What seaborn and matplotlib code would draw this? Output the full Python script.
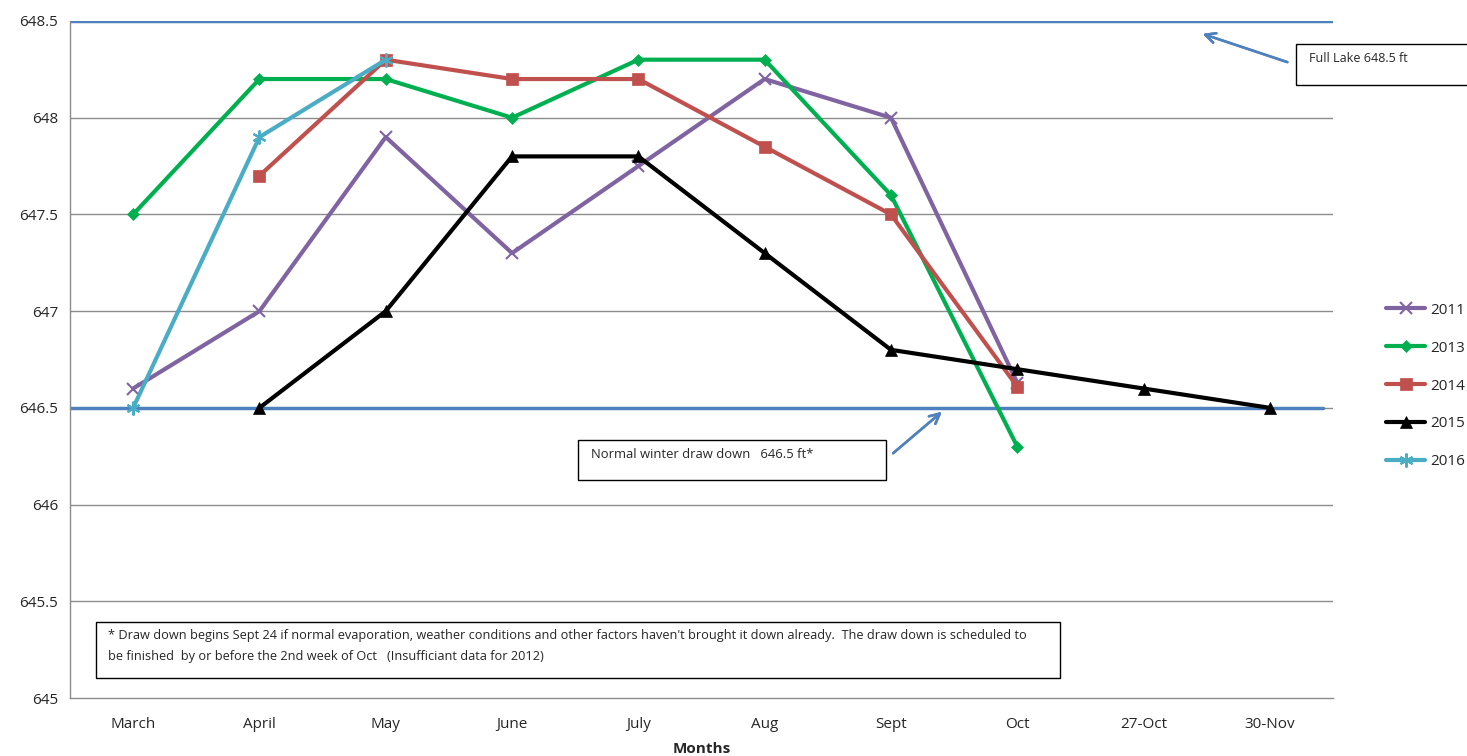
import numpy as np
import pandas as pd
import seaborn as sns
import matplotlib.pyplot as plt
from matplotlib.patches import Rectangle

# Data
months = ["March", "April", "May", "June", "July", "Aug", "Sept", "Oct", "27-Oct", "30-Nov"]
y2011 = [646.6, 647.0, 647.9, 647.3, 647.75, 648.2, 648.0, 646.63, np.nan, np.nan]
y2013 = [647.5, 648.2, 648.2, 648.0, 648.3, 648.3, 647.6, 646.3, np.nan, np.nan]
y2014 = [np.nan, 647.7, 648.3, 648.2, 648.2, 647.85, 647.5, 646.61, np.nan, np.nan]
y2015 = [np.nan, 646.5, 647.0, 647.8, 647.8, 647.3, 646.8, 646.7, 646.6, 646.5]
y2016 = [646.5, 647.9, 648.3, np.nan, np.nan, np.nan, np.nan, np.nan, np.nan, np.nan]
full_lake = 648.5
winter_level = 646.5

series = {"2011": y2011, "2013": y2013, "2014": y2014, "2015": y2015, "2016": y2016}
colors = {"2011": "#8064A2", "2013": "#00B050", "2014": "#C0504D", "2015": "#000000", "2016": "#4BACC6"}
markers = {"2011": "x", "2013": "D", "2014": "s", "2015": "^", "2016": (6, 2, 0)}
msizes = {"2011": 8, "2013": 6, "2014": 8, "2015": 8, "2016": 10}

rows = []
for yr, vals in series.items():
    for i, v in enumerate(vals):
        rows.append({"pos": i, "level": v, "year": yr})
df = pd.DataFrame(rows).dropna()

sns.set_theme(style="white")
plt.rcParams["font.family"] = ["Open Sans", "DejaVu Sans"]

W, H = 1467, 756
fig = plt.figure(figsize=(W / 100, H / 100), dpi=100)
ax = fig.add_axes([70 / W, 1 - 698 / H, (1333 - 70) / W, (698 - 21) / H])

def fx(px):
    return px / W

def fy(py):
    return 1 - py / H

# gridlines
for g in np.arange(645.5, 648.5, 0.5):
    ax.axhline(g, color="#8c8c8c", lw=1, zorder=0)

for yr in series:
    sub = df[df["year"] == yr]
    sns.lineplot(data=sub, x="pos", y="level", ax=ax, color=colors[yr], lw=3,
                 marker=markers[yr], markersize=msizes[yr], markeredgewidth=1.5 if yr in ("2011", "2016") else 0.5,
                 markeredgecolor=colors[yr], label=yr, zorder=3)

# reference lines
ax.axhline(full_lake, color="#4F81BD", lw=2.5, zorder=2)
ax.plot([-0.5, 9.42], [winter_level, winter_level], color="#4F81BD", lw=2.5, zorder=2)

ax.set_xlim(-0.5, 9.5)
ax.set_ylim(645, 648.5)
ax.set_yticks(np.arange(645, 648.51, 0.5))
ax.set_yticklabels(["645", "645.5", "646", "646.5", "647", "647.5", "648", "648.5"], fontsize=11)
ax.set_xticks(range(len(months)))
ax.set_xticklabels(months, fontsize=11)
ax.set_xticks(np.arange(-0.5, 9.6, 1), minor=True)
ax.tick_params(axis="x", which="major", length=0, pad=14)
ax.tick_params(axis="x", which="minor", length=6, color="#8c8c8c", direction="out")
ax.tick_params(axis="y", length=5, color="#8c8c8c", direction="out")
ax.set_xlabel("Months", fontsize=11, fontweight="bold", labelpad=7)
ax.set_ylabel("")
for s in ["top", "right"]:
    ax.spines[s].set_visible(False)
for s in ["left", "bottom"]:
    ax.spines[s].set_color("#8c8c8c")
    ax.spines[s].set_linewidth(1)

leg = ax.legend(loc="center left", bbox_to_anchor=(fx(1372), fy(386)), bbox_transform=fig.transFigure,
                frameon=False, fontsize=11, handlelength=2.6, handletextpad=0.3, labelspacing=1.5)

# annotation boxes
fig.add_artist(Rectangle((fx(1296), fy(85)), fx(1480) - fx(1296), fy(44) - fy(85),
                         transform=fig.transFigure, fill=False, ec="black", lw=1))
fig.text(fx(1309), fy(59), "Full Lake 648.5 ft", fontsize=9, va="center")
fig.add_artist(Rectangle((fx(578), fy(480)), fx(886) - fx(578), fy(440) - fy(480),
                         transform=fig.transFigure, fill=False, ec="black", lw=1))
fig.text(fx(591), fy(455), "Normal winter draw down   646.5 ft*", fontsize=9.4, va="center")
fig.add_artist(Rectangle((fx(96), fy(678)), fx(1060) - fx(96), fy(622) - fy(678),
                         transform=fig.transFigure, fill=False, ec="black", lw=1))
fig.text(fx(108), fy(646),
         "* Draw down begins Sept 24 if normal evaporation, weather conditions and other factors haven't brought it down already.  The draw down is scheduled to\n"
         "be finished  by or before the 2nd week of Oct   (Insufficiant data for 2012)",
         fontsize=9.2, va="center", linespacing=1.75)

# arrows
fig.add_artist(plt.annotate("", xy=(fx(1200), fy(33)), xytext=(fx(1290), fy(63)),
                            xycoords="figure fraction", textcoords="figure fraction",
                            arrowprops=dict(arrowstyle="->", color="#4F81BD", lw=1.8, mutation_scale=18)))
fig.add_artist(plt.annotate("", xy=(fx(944), fy(410)), xytext=(fx(891), fy(455)),
                            xycoords="figure fraction", textcoords="figure fraction",
                            arrowprops=dict(arrowstyle="->", color="#4F81BD", lw=1.8, mutation_scale=18)))

fig.savefig("out.png", dpi=100)
